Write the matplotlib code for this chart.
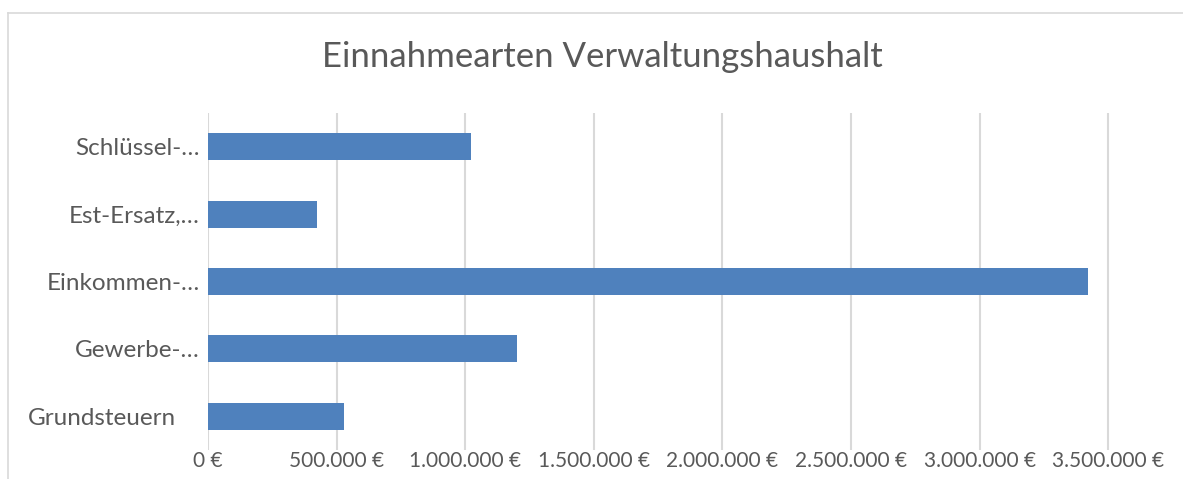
import numpy as np
import matplotlib
matplotlib.use("Agg")
import matplotlib.pyplot as plt
from matplotlib.transforms import ScaledTranslation

categories = ["Grundsteuern", "Gewerbe-…", "Einkommen-…", "Est-Ersatz,…", "Schlüssel-…"]
values = [528000, 1202000, 3422000, 423000, 1023000]
xticks = [0, 500000, 1000000, 1500000, 2000000, 2500000, 3000000, 3500000]
xticklabels = ["0 €", "500.000 €", "1.000.000 €", "1.500.000 €", "2.000.000 €",
               "2.500.000 €", "3.000.000 €", "3.500.000 €"]
title = "Einnahmearten Verwaltungshaushalt"

W, H = 1183, 479
plt.rcParams['font.family'] = ['Lato', 'DejaVu Sans']
fig = plt.figure(figsize=(W / 100, H / 100), dpi=100)
grey = "#595959"

# chart frame (left + top border)
fig.add_artist(plt.Line2D([8 / W, 8 / W], [0, 1 - 13 / H], color="#d9d9d9", lw=1.2,
                          transform=fig.transFigure))
fig.add_artist(plt.Line2D([8 / W, 1], [1 - 13 / H, 1 - 13 / H], color="#d9d9d9", lw=1.2,
                          transform=fig.transFigure))

ax = fig.add_axes([208 / W, 1 - 450 / H, (W - 208) / W, 337 / H])
y = np.arange(len(categories))
ax.barh(y, values, height=0.4, color="#4f81bd", zorder=3)
ax.set_ylim(-0.5, len(categories) - 0.5)
ax.set_xlim(0, (W - 208) / 257.2 * 1e6)
ax.set_xticks(xticks)
ax.set_xticklabels(xticklabels, fontsize=15, color=grey)
ax.set_yticks(y)
ax.set_yticklabels(categories, fontsize=17.5, color=grey)
ax.tick_params(axis="both", length=0)
ax.tick_params(axis="x", pad=1)
ax.tick_params(axis="y", pad=6)
ax.grid(axis="x", color="#d9d9d9", lw=1.5, zorder=0)
for s in ax.spines.values():
    s.set_visible(False)

# Grundsteuern label sits further left in the original
lab = ax.get_yticklabels()[0]
lab.set_transform(lab.get_transform() + ScaledTranslation(-0.24, 0, fig.dpi_scale_trans))

fig.text(602 / W, 1 - 57 / H, title, ha="center", va="center", fontsize=25, color=grey)

fig.savefig("out.png", dpi=100)
